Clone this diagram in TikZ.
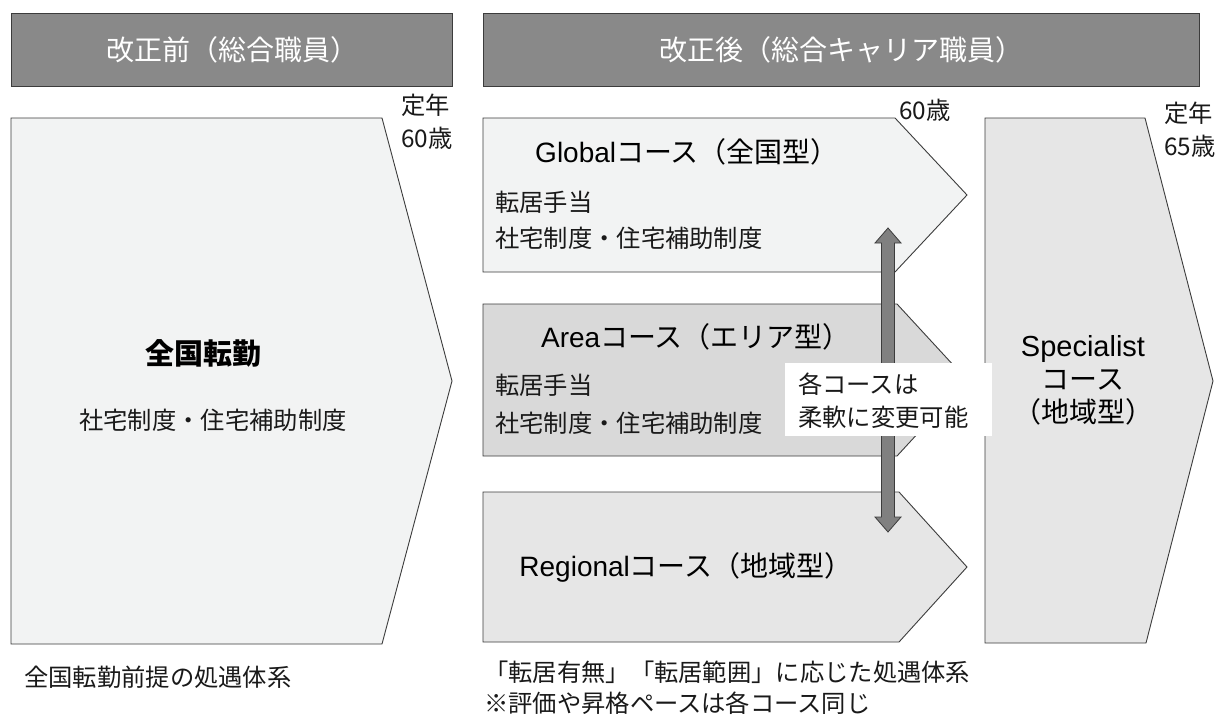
\documentclass[tikz,border=0pt]{standalone}
\usepackage{fontspec}
\setmainfont{Noto Sans CJK JP}
\newfontfamily\lat{Liberation Sans}
\usetikzlibrary{calc}
\definecolor{hdr}{RGB}{137,137,137}
\definecolor{lite}{RGB}{242,243,243}
\definecolor{mid}{RGB}{217,217,217}
\definecolor{pale}{RGB}{230,230,230}
\definecolor{edge}{RGB}{60,60,60}
\definecolor{arr}{RGB}{128,128,128}
\definecolor{txt}{RGB}{25,25,25}
\tikzset{
  shapeline/.style={draw=edge, line width=0.9pt, line join=miter},
  hdrbox/.style={fill=hdr, draw=edge, line width=1pt, inner sep=0pt, text=white,
    font=\fontsize{28}{32}\selectfont},
  title/.style={font=\fontsize{28}{33}\selectfont, inner sep=0pt, text=black},
  body/.style={font=\fontsize{24.3}{28}\selectfont, inner sep=0pt, anchor=west, text=txt},
  note/.style={font=\fontsize{24.3}{33}\selectfont, inner sep=0pt, align=left, anchor=west, text=txt},
}
\begin{document}
\begin{tikzpicture}[x=1pt,y=-1pt]
\useasboundingbox[fill=white] (0,0) rectangle (1215,720);

% headers
\node[hdrbox, anchor=north west, minimum width=441pt, minimum height=73pt] (h1) at (11,13) {改正前（総合職員）};
\node[hdrbox, anchor=north west, minimum width=716pt, minimum height=73pt] (h2) at (483,13) {改正後（総合キャリア職員）};

% left pentagon
\draw[shapeline, fill=lite] (11,118) -- (382,118) -- (452,381) -- (382,644) -- (11,644) -- cycle;
\node[title, font=\fontsize{29}{33}\selectfont\bfseries] (zk) at (203,353) {全国転勤};
\node[body, anchor=center] (zkb) at (213,420) {社宅制度・住宅補助制度};
\node[note] (tl) at (401,122) {定年\\60歳};

% Global
\draw[shapeline, fill=lite] (483,118) -- (895,118) -- (967,195) -- (895,272) -- (483,272) -- cycle;
\node[title] (gt) at (687,152) {{\lat Global}コース（全国型）};
\node[body] (gb1) at (495,202) {転居手当};
\node[body] (gb2) at (495,238) {社宅制度・住宅補助制度};
\node[note] (g60) at (899,110) {60歳};

% Area
\draw[shapeline, fill=mid] (483,304) -- (897,304) -- (967,380) -- (897,456) -- (483,456) -- cycle;
\node[title] (at) at (696,337) {{\lat Area}コース（エリア型）};
\node[body] (ab1) at (495,385) {転居手当};
\node[body] (ab2) at (495,423) {社宅制度・住宅補助制度};

% Regional
\draw[shapeline, fill=pale] (483,492) -- (899,492) -- (967,567) -- (899,642) -- (483,642) -- cycle;
\node[title] (rt) at (686,567) {{\lat Regional}コース（地域型）};

% Specialist
\draw[shapeline, fill=pale] (985,118) -- (1145,118) -- (1213,381) -- (1146,643) -- (985,643) -- cycle;
\node[title, align=center] (st) at (1083,380) {{\lat\fontsize{29}{33}\selectfont Specialist}\\コース\\（地域型）};
\node[note] (tr) at (1164,130) {定年\\65歳};

% double arrow between Global and Regional
\coordinate (atop) at (888,228);
\coordinate (abot) at (888,532);
\draw[draw=edge, fill=arr, line width=0.8pt, line join=miter]
  (atop) -- ($(atop)+(13,15)$) -- ($(atop)+(6.5,15)$) -- ($(abot)+(6.5,-15)$)
  -- ($(abot)+(13,-15)$) -- (abot) -- ($(abot)+(-13,-15)$) -- ($(abot)+(-6.5,-15)$)
  -- ($(atop)+(-6.5,15)$) -- ($(atop)+(-13,15)$) -- cycle;

% note box
\node[fill=white, inner sep=0pt, anchor=north west, minimum width=207pt, minimum height=73pt] (chgbox) at (785,363) {};
\node[note] (chg) at (798,401) {各コースは\\柔軟に変更可能};

% footers
\node[body] (fl) at (24,677) {全国転勤前提の処遇体系};
\node[note] (fr) at (484,688) {「転居有無」「転居範囲」に応じた処遇体系\\[-2pt]※評価や昇格ペースは各コース同じ};
\end{tikzpicture}
\end{document}
